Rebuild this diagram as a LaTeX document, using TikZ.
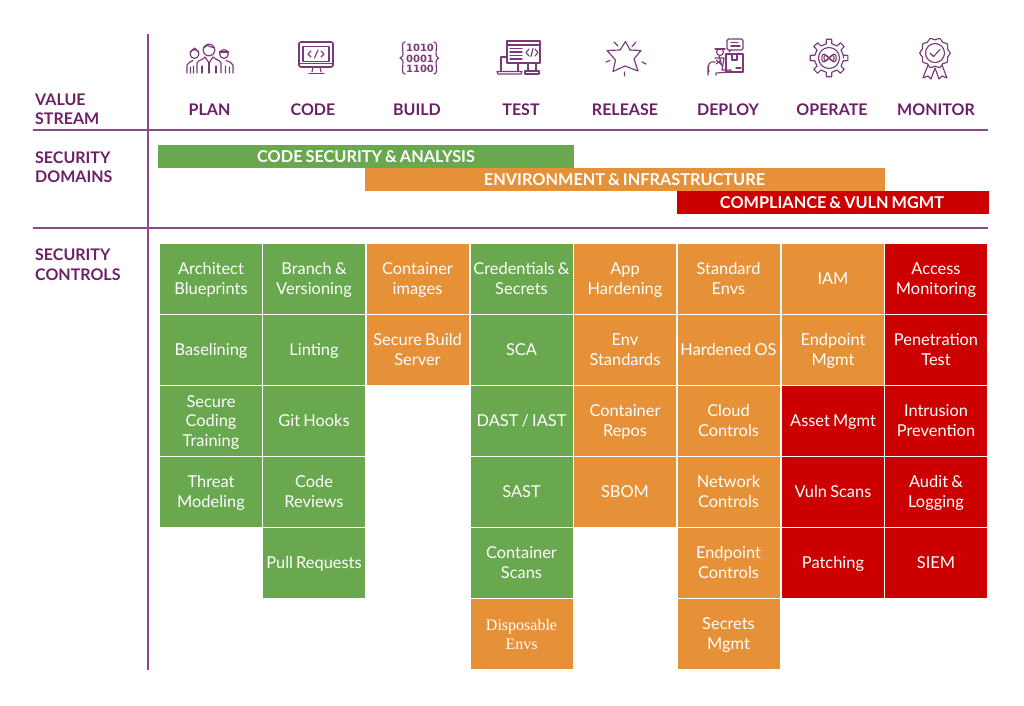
\documentclass[tikz,border=0pt]{standalone}
\usepackage{fontspec}
\setmainfont{Lato}[WordSpace=0.75]
\newfontfamily\serifcell{Liberation Serif}
\newfontfamily\iconbits{DejaVu Sans}
\newcommand\mlt[2][-6.1pt]{\raisebox{#1}[0pt][0pt]{\begin{tabular}{@{}c@{}}#2\end{tabular}}}
\definecolor{vsgreen}{HTML}{6AA84F}
\definecolor{vsorange}{HTML}{E69138}
\definecolor{vsred}{HTML}{CC0000}
\definecolor{vspurple}{HTML}{6B2068}
\definecolor{vsline}{HTML}{8A4A85}
\definecolor{vsicon}{HTML}{7A3A77}
\tikzset{
 cell/.style={minimum width=102pt,minimum height=70pt,inner sep=0pt,text=white,
   font=\fontsize{16.4}{19.5}\selectfont,text height=14pt,text depth=4pt},
 mcell/.style={text height=0pt,text depth=0pt},
 gcell/.style={cell,fill=vsgreen},
 ocell/.style={cell,fill=vsorange},
 rcell/.style={cell,fill=vsred},
 bar/.style={inner sep=0pt,minimum height=23pt},
 bartext/.style={text=white,font=\bfseries\fontsize{16.3}{18}\selectfont,inner sep=0pt},
 head/.style={text=vspurple,font=\bfseries\fontsize{16}{19.5}\selectfont,inner sep=0pt},
 side/.style={head,align=left,anchor=north west},
 rule/.style={vsline,line width=1.2pt},
 icon/.style={vsicon,line width=1.15pt,line join=round,line cap=round},
}
\begin{document}
\begin{tikzpicture}[x=1pt,y=-1pt]
\useasboundingbox (0,0) rectangle (1024,705);
% rules
\coordinate (vt) at (148,34); \coordinate (vb) at (148,670);
\coordinate (h1l) at (33,130); \coordinate (h1r) at (988,130);
\coordinate (h2l) at (33,228); \coordinate (h2r) at (988,228);
\draw[rule] (vt) -- (vb);
\draw[rule] (h1l) -- (h1r);
\draw[rule] (h2l) -- (h2r);
% side labels
\node[side] (lvs) at (35,93.5) {VALUE\\STREAM};
\node[side] (lsd) at (35,151.3) {SECURITY\\DOMAINS};
\node[side] (lsc) at (35,248.8) {SECURITY\\CONTROLS};
% heads
\node[head] (hplan) at (209.5,109.5) {PLAN};
\node[head] (hcode) at (313,109.5) {CODE};
\node[head] (hbuild) at (417,109.5) {BUILD};
\node[head] (htest) at (521,109.5) {TEST};
\node[head] (hrel) at (625,109.5) {RELEASE};
\node[head] (hdep) at (728,109.5) {DEPLOY};
\node[head] (hop) at (832,109.5) {OPERATE};
\node[head] (hmon) at (936,109.5) {MONITOR};
% bars
\node[bar,fill=vsgreen,minimum width=416pt] (b1) at (366,156.5) {};
\node[bartext] (b1t) at (366,157) {CODE SECURITY \& ANALYSIS};
\node[bar,fill=vsorange,minimum width=520pt] (b2) at (625,179.5) {};
\node[bartext] (b2t) at (624.5,180) {ENVIRONMENT \& INFRASTRUCTURE};
\node[bar,fill=vsred,minimum width=312pt] (b3) at (833,202.5) {};
\node[bartext] (b3t) at (832,203) {COMPLIANCE \& VULN MGMT};
% column 1
\node[gcell,mcell] (a1) at (211,279) {\mlt{Architect\\Blueprints}};
\node[gcell] (a2) at (211,350) {Baselining};
\node[gcell,mcell] (a3) at (211,421) {\mlt{Secure\\Coding\\Training}};
\node[gcell,mcell] (a4) at (211,492) {\mlt{Threat\\Modeling}};
% column 2
\node[gcell,mcell] (b1c) at (314,279) {\mlt{Branch \&\\Versioning}};
\node[gcell] (b2c) at (314,350) {Linting};
\node[gcell] (b3c) at (314,421) {Git Hooks};
\node[gcell,mcell] (b4c) at (314,492) {\mlt{Code\\Reviews}};
\node[gcell] (b5c) at (314,563) {Pull Requests};
% column 3
\node[ocell,mcell] (c1) at (417.5,279) {\mlt{Container\\images}};
\node[ocell,mcell] (c2) at (417.5,350) {\mlt{Secure Build\\Server}};
% column 4
\node[gcell,mcell] (d1) at (521.5,279) {\mlt{Credentials \&\\Secrets}};
\node[gcell] (d2) at (521.5,350) {SCA};
\node[gcell] (d3) at (521.5,421) {DAST / IAST};
\node[gcell] (d4) at (521.5,492) {SAST};
\node[gcell,mcell] (d5) at (521.5,563) {\mlt{Container\\Scans}};
\node[ocell,mcell,font=\serifcell\fontsize{16}{19}\selectfont] (d6) at (521.5,634) {\mlt[-7pt]{Disposable\\Envs}};
% column 5
\node[ocell,mcell] (e1) at (625,279) {\mlt{App\\Hardening}};
\node[ocell,mcell] (e2) at (625,350) {\mlt{Env\\Standards}};
\node[ocell,mcell] (e3) at (625,421) {\mlt{Container\\Repos}};
\node[ocell] (e4) at (625,492) {SBOM};
% column 6
\node[ocell,mcell] (f1) at (728.5,279) {\mlt{Standard\\Envs}};
\node[ocell] (f2) at (728.5,350) {Hardened OS};
\node[ocell,mcell] (f3) at (728.5,421) {\mlt{Cloud\\Controls}};
\node[ocell,mcell] (f4) at (728.5,492) {\mlt{Network\\Controls}};
\node[ocell,mcell] (f5) at (728.5,563) {\mlt{Endpoint\\Controls}};
\node[ocell,mcell] (f6) at (728.5,634) {\mlt{Secrets\\Mgmt}};
% column 7
\node[ocell] (g1) at (833,279) {IAM};
\node[ocell,mcell] (g2) at (833,350) {\mlt{Endpoint\\Mgmt}};
\node[rcell] (g3) at (833,421) {Asset Mgmt};
\node[rcell] (g4) at (833,492) {Vuln Scans};
\node[rcell] (g5) at (833,563) {Patching};
% column 8
\node[rcell,mcell] (h1) at (936,279) {\mlt{Access\\Monitoring}};
\node[rcell,mcell] (h2) at (936,350) {\mlt{Penetration\\Test}};
\node[rcell,mcell] (h3) at (936,421) {\mlt{Intrusion\\Prevention}};
\node[rcell,mcell] (h4) at (936,492) {\mlt{Audit \&\\Logging}};
\node[rcell] (h5) at (936,563) {SIEM};
% icon: plan
\begin{scope}[icon]
 \draw (209,50) circle (5.8);
 \draw (203.5,48) -- (207,45.5) -- (214.5,48);
 \draw (197,73) -- (197,63) .. controls (198,60) and (203,60) .. (205,57) -- (209,63) -- (213,57) .. controls (216,60) and (220,60) .. (221,63) -- (221,73);
 \draw (202,66) -- (202,73) (216,66) -- (216,73) (209,63) -- (209,73);
 \draw (194.5,54) circle (4.4);
 \draw (190,52) -- (194.5,48) -- (199,52);
 \draw (187,73) -- (187,65) .. controls (188,62) and (191,62) .. (193,60.5) (190.5,67) -- (190.5,73) (193.5,66) -- (193.5,73);
 \draw (224,54) circle (4.4);
 \draw (219.5,52) -- (228.5,52);
 \draw (233,73) -- (233,65) .. controls (232,62) and (229,62) .. (226,60.5) (229.5,67) -- (229.5,73) (225.5,66) -- (225.5,73);
% icon: code
 \draw[rounded corners=1.5pt,line width=1.6pt] (299,42) rectangle (333,67);
 \draw (303,46.5) rectangle (329,61.5);
 \draw (299,63.5) -- (333,63.5);
 \draw (313,67) -- (312,72) (320,67) -- (321,72);
 \draw (309,73.5) -- (324,73.5);
 \draw (311,51) -- (308,54) -- (311,57) (321,51) -- (324,54) -- (321,57) (318,50) -- (314.5,58);
% icon: build
 \node[inner sep=0pt,align=center,text=vsicon,font=\iconbits\bfseries\fontsize{10}{10.5}\selectfont] (bits) at (420,58.5) {1010\\0001\\1100};
 \draw (405,42) .. controls (401,42) and (403,48) .. (403,54) .. controls (403,56) and (402,57) .. (400,58) .. controls (402,59) and (403,60) .. (403,62) .. controls (403,68) and (401,74) .. (405,74);
 \draw (434,42) .. controls (438,42) and (436,48) .. (436,54) .. controls (436,56) and (437,57) .. (438.5,58) .. controls (437,59) and (436,60) .. (436,62) .. controls (436,68) and (438,74) .. (434,74);
% icon: test
 \draw (507,41) rectangle (540,63);
 \draw (507,45) -- (540,45);
 \draw (510,48.5) -- (522,48.5) (510,52) -- (522,52) (510,55.5) -- (522,55.5) (510,59) -- (522,59);
 \draw (529,49) -- (526,52.5) -- (529,56) (535,49) -- (538,52.5) -- (535,56) (533,48.5) -- (531,56.5);
 \draw (507,57) -- (501,57) -- (501,71) (518,63) -- (518,71);
 \draw (497,71.5) -- (522,71.5) -- (521,74) -- (498,74) -- cycle;
 \draw (528,63) -- (528,71) (536,63) -- (536,71);
 \draw (525,71) rectangle (539,74);
% icon: release
 \draw (625.5,41.5) -- (630,50) -- (641,50.5) -- (634,59) -- (638,71) -- (625,66) -- (613,71.5) -- (615.5,60) -- (607,50.5) -- (620,50) -- cycle;
 \draw (614,42) -- (618,46) (636,42) -- (632,46.5) (642,62) -- (646,64) (606,62) -- (610,60.5) (624.5,72) -- (624.5,76);
% icon: deploy
 \draw[rounded corners=1.5pt] (727,39) rectangle (743,50);
 \draw (729,52) -- (731,50);
 \draw (731,42.5) -- (738,42.5) (731,46) -- (740,46);
 \draw (726,54) rectangle (743,72);
 \draw (732,54) -- (732,60) -- (737,60) -- (737,54);
 \draw (736,68) -- (741,68);
 \draw (720,52) circle (3.5);
 \draw (715,49) -- (725,49);
 \draw (719,56) -- (722,66);
 \draw (715,62) .. controls (709,60) and (707,66) .. (709,72) (708,66) -- (708,75);
 \draw (715,58) -- (724,58) -- (722,70) -- (731,70) -- (731,72) -- (716,73) -- (716,75);
 \draw (716,64) -- (721,60) (716,60) -- (722,65);
% icon: operate
 \begin{scope}[shift={(829,58)}]
  \draw (0:14.5) \foreach \a in {0,45,...,315} {
    -- (\a-11:14.5) -- (\a-8:19) -- (\a+8:19) -- (\a+11:14.5) -- (\a+34:14.5)} -- cycle;
  \draw (0,0) circle (10.5);
  \draw plot[smooth,domain=0:360,samples=50] ({7.2*cos(\x)},{3.8*sin(2*\x)});
  \draw plot[smooth,domain=0:360,samples=50] ({5*cos(\x)},{2.4*sin(2*\x)});
 \end{scope}
% icon: monitor
 \begin{scope}[shift={(935,53)}]
  \draw plot[smooth cycle,domain=0:342,samples=39] ({(14.2+1.1*cos(10*\x))*cos(\x)},{(14.2+1.1*cos(10*\x))*sin(\x)});
  \draw (0,0) circle (9.5);
  \draw (-5,0) -- (-1.5,3.5) -- (5,-3.5);
  \draw (-7,12) -- (-12,25) -- (-7,23) -- (-4,26) -- (0,15) -- (4,26) -- (7,23) -- (12,25) -- (7,12);
 \end{scope}
\end{scope}
\end{tikzpicture}
\end{document}
